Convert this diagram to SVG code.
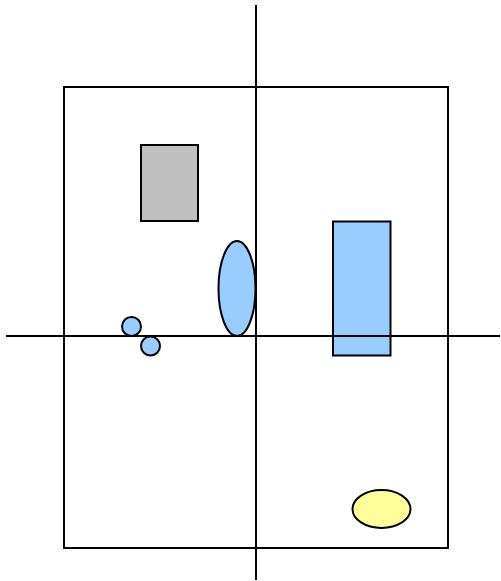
<svg xmlns="http://www.w3.org/2000/svg" width="501" height="581" viewBox="0 0 501 581">
<style>
.s{stroke:#000;stroke-width:2}
.blue{fill:#99ccff}
.gray{fill:#c0c0c0}
.yellow{fill:#ffff99}
.none{fill:none}
</style>
<rect width="501" height="581" fill="#fff"/>
<g id="frame"><rect class="s none" x="64" y="87" width="384" height="461"/></g>
<g id="grayRect"><rect class="s gray" x="141" y="145" width="57" height="76"/></g>
<g id="blueEllipse"><ellipse class="s blue" cx="237" cy="288.5" rx="18.5" ry="47.5"/></g>
<g id="blueRect"><rect class="s blue" x="333" y="221.5" width="57.5" height="134"/></g>
<g id="yellowEllipse"><ellipse class="s yellow" cx="381.5" cy="509" rx="29" ry="19"/></g>
<g id="axes">
<line class="s" x1="256" y1="5" x2="256" y2="580"/>
<line class="s" x1="6" y1="336" x2="500" y2="336"/>
</g>
<g id="circle1"><circle class="s blue" cx="131.5" cy="326.5" r="9.5"/></g>
<g id="circle2"><circle class="s blue" cx="150.5" cy="346" r="9.5"/></g>
</svg>
